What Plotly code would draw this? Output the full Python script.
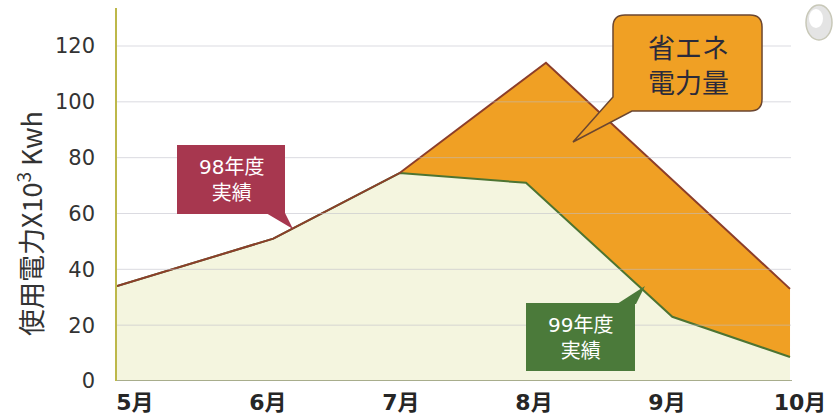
import plotly.graph_objects as go

# ---- data ----
months = ["5月", "6月", "7月", "8月", "9月", "10月"]
month_pos = [5, 6, 7, 8, 9, 10]
x98 = [4.865, 6.04, 6.99, 8.09, 9.925]
y98 = [34, 51, 74.5, 114, 33]
x99 = [4.865, 6.04, 6.99, 7.94, 9.04, 9.925]
y99 = [34, 51, 74.5, 71, 23, 8.6]
y_ticks = [0, 20, 40, 60, 80, 100, 120]

W, H = 839, 418
L, R, T, B = 117, 800, 8, 381
XR = [4.865, 10.0]
YR = [0, (B - T) / ((B - 46) / 120)]


def px(x):
    return (x - L) / (R - L)


def py(y):
    return (B - y) / (B - T)


fig = go.Figure()
fig.add_trace(go.Scatter(x=x99, y=y99, mode="lines", fill="tozeroy",
                         fillcolor="#f4f5df", line=dict(color="#4d7432", width=2),
                         hoverinfo="skip", showlegend=False))
fig.add_trace(go.Scatter(x=x98, y=y98, mode="lines", fill="tonexty",
                         fillcolor="#f0a024", line=dict(color="#8c3e2a", width=2),
                         hoverinfo="skip", showlegend=False))

shapes = []
# gridlines drawn above fills (faint)
for v in y_ticks[1:]:
    shapes.append(dict(type="line", xref="paper", yref="y", x0=0, x1=px(791), y0=v, y1=v,
                       line=dict(color="rgba(190,190,200,0.55)", width=1), layer="above"))
# bottom axis line
shapes.append(dict(type="line", xref="paper", yref="y", x0=0, x1=px(792), y0=0, y1=0,
                   line=dict(color="#8f9470", width=1.5), layer="above"))


def P(a, b):
    return f"{px(a):.4f},{py(b):.4f}"


def poly(points):
    return "M " + " L ".join(P(a, b) for a, b in points) + " Z"


# 98 callout
shapes.append(dict(type="rect", xref="paper", yref="paper", x0=px(177), x1=px(285),
                   y0=py(214), y1=py(145), fillcolor="#a7374f", line=dict(width=0)))
shapes.append(dict(type="path", xref="paper", yref="paper",
                   path=poly([(266, 213), (285, 213), (293, 229)]),
                   fillcolor="#a7374f", line=dict(width=0)))
# 99 callout
shapes.append(dict(type="rect", xref="paper", yref="paper", x0=px(526), x1=px(635),
                   y0=py(371), y1=py(303), fillcolor="#4b7a3a", line=dict(width=0)))
shapes.append(dict(type="path", xref="paper", yref="paper",
                   path=poly([(617, 304), (636, 304), (645, 286)]),
                   fillcolor="#4b7a3a", line=dict(width=0)))

# 省エネ callout: rounded rect with tail
x0, x1, y0, y1, r = 613, 762, 15, 111, 12
path = (f"M {P(x0 + r, y0)} L {P(x1 - r, y0)} Q {P(x1, y0)} {P(x1, y0 + r)} "
        f"L {P(x1, y1 - r)} Q {P(x1, y1)} {P(x1 - r, y1)} "
        f"L {P(632, y1)} L {P(573, 142)} L {P(x0, 97)} "
        f"L {P(x0, y0 + r)} Q {P(x0, y0)} {P(x0 + r, y0)} Z")
shapes.append(dict(type="path", xref="paper", yref="paper", path=path,
                   fillcolor="#f0a024", line=dict(color="#6b4630", width=1.5)))

# pearl decoration
shapes.append(dict(type="circle", xref="paper", yref="paper", x0=px(806), x1=px(832),
                   y0=py(40), y1=py(5), fillcolor="#e4e4e4", line=dict(color="#c8c8b8", width=1.5)))
shapes.append(dict(type="circle", xref="paper", yref="paper", x0=px(809), x1=px(823),
                   y0=py(28), y1=py(9), fillcolor="#ffffff", line=dict(width=0)))

cjk = "DejaVu Sans, Noto Sans CJK JP"
annotations = [
    dict(text="98年度<br>実績", xref="paper", yref="paper", x=px(231), y=py(180),
         xanchor="center", yanchor="middle", showarrow=False,
         font=dict(family=cjk, size=20, color="white")),
    dict(text="99年度<br>実績", xref="paper", yref="paper", x=px(580), y=py(338),
         xanchor="center", yanchor="middle", showarrow=False,
         font=dict(family=cjk, size=20, color="white")),
    dict(text="省エネ<br>電力量", xref="paper", yref="paper", x=px(688), y=py(64),
         xanchor="center", yanchor="middle", showarrow=False,
         font=dict(family="Noto Sans CJK JP", size=27, color="#2a2a3a")),
    dict(text="使用電力X10<sup>3</sup> Kwh", xref="paper", yref="paper", x=px(30), y=py(224),
         xanchor="center", yanchor="middle", textangle=-90, showarrow=False,
         font=dict(family="Noto Sans CJK JP", size=27, color="#333333")),
]

fig.update_layout(
    width=W, height=H,
    margin=dict(l=L, r=W - R, t=T, b=H - B, autoexpand=False),
    paper_bgcolor="white", plot_bgcolor="white",
    shapes=shapes, annotations=annotations,
    xaxis=dict(range=XR, tickvals=month_pos, ticktext=months, showgrid=False,
               zeroline=False, showline=False, automargin=False,
               ticks="outside", ticklen=2, tickcolor="rgba(0,0,0,0)",
               tickfont=dict(family=cjk, size=22, color="#262626", weight="bold")),
    yaxis=dict(range=YR, tickvals=y_ticks, showgrid=False, zeroline=False,
               showline=True, linecolor="#bdb84a", linewidth=1.5, automargin=False,
               ticks="outside", ticklen=16, tickcolor="rgba(0,0,0,0)",
               tickfont=dict(family="DejaVu Sans", size=21, color="#333333")),
)

fig.write_html("out.html")
